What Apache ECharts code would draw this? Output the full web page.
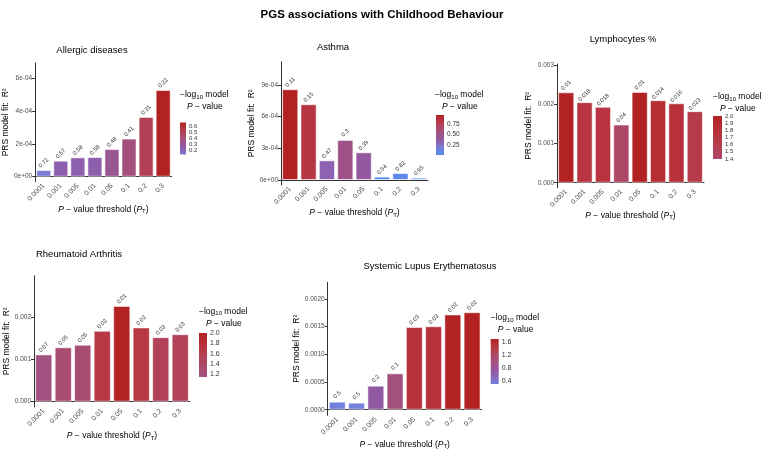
<!DOCTYPE html>
<html><head><meta charset="utf-8">
<script src="https://cdn.jsdelivr.net/npm/echarts@6/dist/echarts.min.js"></script>
<style>html,body{margin:0;padding:0;background:#fff}#c{width:764px;height:452px}</style>
</head><body><div id="c"></div>
<script>
// ---------------- DATA ----------------
const thresholds = ['0.0001','0.001','0.005','0.01','0.05','0.1','0.2','0.3'];

const allergicR2   = [4.1e-5, 9.8e-5, 1.18e-4, 1.2e-4, 1.69e-4, 2.33e-4, 3.65e-4, 5.3e-4];
const allergicP    = ['0.72','0.57','0.58','0.58','0.48','0.41','0.31','0.22'];
const allergicLogP = [0.14, 0.24, 0.24, 0.24, 0.32, 0.39, 0.51, 0.66];

const asthmaR2   = [8.59e-4, 7.17e-4, 1.86e-4, 3.79e-4, 2.62e-4, 3.2e-5, 6.6e-5, 2.2e-5];
const asthmaP    = ['0.11','0.15','0.47','0.3','0.39','0.94','0.82','0.95'];
const asthmaLogP = [0.96, 0.82, 0.33, 0.52, 0.41, 0.027, 0.086, 0.022];

const lymphR2   = [2.30e-3, 2.05e-3, 1.93e-3, 1.48e-3, 2.31e-3, 2.10e-3, 2.02e-3, 1.82e-3];
const lymphP    = ['0.01','0.018','0.018','0.04','0.01','0.014','0.016','0.023'];
const lymphLogP = [2.0, 1.74, 1.74, 1.40, 2.0, 1.85, 1.80, 1.64];

const raR2   = [1.12e-3, 1.29e-3, 1.35e-3, 1.68e-3, 2.27e-3, 1.76e-3, 1.53e-3, 1.60e-3];
const raP    = ['0.07','0.05','0.05','0.02','0.01','0.02','0.03','0.03'];
const raLogP = [1.15, 1.30, 1.30, 1.70, 2.0, 1.70, 1.52, 1.52];

const sleR2   = [1.45e-4, 1.27e-4, 4.34e-4, 6.57e-4, 1.494e-3, 1.506e-3, 1.72e-3, 1.76e-3];
const sleP    = ['0.5','0.5','0.2','0.1','0.03','0.03','0.02','0.02'];
const sleLogP = [0.30, 0.30, 0.70, 1.0, 1.52, 1.52, 1.70, 1.70];

// axis tick labels
const allergicYTicks = [0, 2e-4, 4e-4, 6e-4];
const asthmaYTicks   = [0, 3e-4, 6e-4, 9e-4];
const lymphYTicks    = [0, 0.001, 0.002, 0.003];
const raYTicks       = [0, 0.001, 0.002];
const sleYTicks      = [0, 0.0005, 0.001, 0.0015, 0.002];

// colour-legend tick labels
const allergicCTicks = [0.2, 0.3, 0.4, 0.5, 0.6];
const asthmaCTicks   = [0.25, 0.5, 0.75];
const lymphCTicks    = [1.4, 1.5, 1.6, 1.7, 1.8, 1.9, 2.0];
const raCTicks       = [1.2, 1.4, 1.6, 1.8, 2.0];
const sleCTicks      = [0.4, 0.8, 1.2, 1.6];

const panelTitles = ['Allergic diseases', 'Asthma', 'Lymphocytes %', 'Rheumatoid Arthritis', 'Systemic Lupus Erythematosus'];
const mainTitle = 'PGS associations with Childhood Behaviour';

// ---------------- STYLE / LAYOUT ----------------
const FONT = "'Liberation Sans', Arial, sans-serif";
const palette = ['#4A8CF2','#5C86E8','#7A7FD9','#8A68BA','#915AA5','#9C5490','#A5507C','#AC4866','#B63E4E','#B7303A','#B22222'];

function hex2rgb(h){return [parseInt(h.substr(1,2),16),parseInt(h.substr(3,2),16),parseInt(h.substr(5,2),16)];}
function colourAt(f){
  f = Math.max(0, Math.min(1, f));
  const p = f*(palette.length-1), i = Math.min(Math.floor(p), palette.length-2), t = p - i;
  const a = hex2rgb(palette[i]), b = hex2rgb(palette[i+1]);
  return 'rgb(' + a.map((v,k)=>Math.round(v+(b[k]-v)*t)).join(',') + ')';
}
function sci(v){
  if (v === 0) return '0e+00';
  const e = Math.floor(Math.log10(v) + 1e-9);
  const m = Math.round(v / Math.pow(10, e));
  return m + 'e-' + String(-e).padStart(2,'0');
}

const panels = [
  {r2: allergicR2, p: allergicP, c: allergicLogP, yt: allergicYTicks, ct: allergicCTicks, fmt: sci, cfmt: v=>v.toFixed(1),
   grid:{left:33, top:63, width:138.7, height:118.7}, ymin:-3.06e-5, ymax:6.95e-4,
   leg:{left:180, top:122.5, width:6, height:32}, legFont:6, lt:{x:180, y:95},
   title:{x:92, y:50}, yGap:20, xGap:20, tick:6.5},
  {r2: asthmaR2, p: asthmaP, c: asthmaLogP, yt: asthmaYTicks, ct: asthmaCTicks, fmt: sci, cfmt: v=>v.toFixed(2),
   grid:{left:281, top:61.7, width:147, height:123.3}, ymin:-4.73e-5, ymax:1.1196e-3,
   leg:{left:436, top:115, width:8, height:40}, legFont:6.5, lt:{x:435, y:95},
   title:{x:333, y:47}, yGap:22, xGap:21, tick:6.5},
  {r2: lymphR2, p: lymphP, c: lymphLogP, yt: lymphYTicks, ct: lymphCTicks, fmt: v=>v.toFixed(3), cfmt: v=>v.toFixed(1),
   grid:{left:557, top:64, width:147, height:123.7}, ymin:-1.27e-4, ymax:3.02e-3,
   leg:{left:713, top:116, width:9, height:43}, legFont:6, lt:{x:713, y:97},
   title:{x:623, y:39}, yGap:24, xGap:21, tick:6.5},
  {r2: raR2, p: raP, c: raLogP, yt: raYTicks, ct: raCTicks, fmt: v=>v.toFixed(3), cfmt: v=>v.toFixed(1),
   grid:{left:34, top:275.7, width:156, height:131.3}, ymin:-1.256e-4, ymax:2.986e-3,
   leg:{left:199, top:333, width:8, height:44}, legFont:7, lt:{x:199, y:311.7},
   title:{x:79, y:254}, yGap:21, xGap:24, tick:6.5},
  {r2: sleR2, p: sleP, c: sleLogP, yt: sleYTicks, ct: sleCTicks, fmt: v=>v.toFixed(4), cfmt: v=>v.toFixed(1),
   grid:{left:327.7, top:282.3, width:154, height:133}, ymin:-1.01e-4, ymax:2.30e-3,
   leg:{left:490.7, top:339, width:8, height:45}, legFont:7, lt:{x:490.7, y:318},
   title:{x:430, y:266}, yGap:27, xGap:24, tick:6.5}
];

const grids = [], xAxes = [], yAxes = [], series = [], visualMaps = [], graphics = [];

graphics.push({type:'text', x:382, y:15, style:{text: mainTitle, font:"bold 11.5px "+FONT, fill:'#000', textAlign:'center', textVerticalAlign:'middle'}});

panels.forEach((pn, i) => {
  const g = grids.length;
  grids.push(Object.assign({containLabel:false}, pn.grid));
  xAxes.push({
    type:'category', gridIndex:g, data: thresholds,
    axisLine:{lineStyle:{color:'#333', width:1}},
    axisTick:{alignWithLabel:true, length:3, lineStyle:{color:'#333'}},
    axisLabel:{rotate:45, fontSize:pn.tick+0.5, color:'#4d4d4d', margin:3, interval:0, fontFamily:FONT},
    name:'{i|P} − value threshold ({i|P}{s|T})', nameLocation:'middle', nameGap:pn.xGap,
    nameTextStyle:{fontSize:8.5, color:'#000', fontFamily:FONT,
      rich:{i:{fontStyle:'italic', fontSize:8.5, fontFamily:FONT}, s:{fontSize:6, fontFamily:FONT, padding:[4,0,0,0]}}}
  });
  yAxes.push({
    type:'value', gridIndex:g, min:pn.ymin, max:pn.ymax,
    axisLine:{show:true, lineStyle:{color:'#333', width:1}},
    axisTick:{show:true, length:3, lineStyle:{color:'#333'}, customValues: pn.yt},
    axisLabel:{customValues: pn.yt, formatter: pn.fmt, fontSize:pn.tick, color:'#4d4d4d', margin:3, fontFamily:FONT},
    splitLine:{show:false},
    name:'PRS model fit:  R²', nameLocation:'middle', nameGap:pn.yGap, nameRotate:90,
    nameTextStyle:{fontSize:8.5, color:'#000', fontFamily:FONT}
  });
  const sIdx = series.length;
  series.push({
    type:'bar', xAxisIndex:g, yAxisIndex:g,
    data: thresholds.map((t,k)=>[t, pn.r2[k], pn.c[k], pn.p[k]]),
    encode:{x:0, y:1},
    barCategoryGap:'12%',
    itemStyle:{borderColor:'rgba(255,255,255,0.55)', borderWidth:1},
    label:{show:true, position:'top', distance:7, rotate:45, align:'center', verticalAlign:'middle',
      fontSize:5.8, color:'#333', fontFamily:FONT, formatter: p => p.data[3]},
    animation:false
  });
  const cmax = Math.max(...pn.c), cmin = Math.min(...pn.c);
  visualMaps.push({type:'continuous', show:false, seriesIndex:sIdx, dimension:2, min:0, max:cmax, inRange:{color: palette}});

  const lg = grids.length;
  grids.push(Object.assign({containLabel:false}, pn.leg));
  xAxes.push({type:'category', gridIndex:lg, data:[''], show:false});
  yAxes.push({type:'value', gridIndex:lg, min:cmin, max:cmax, position:'right',
    axisLine:{show:false}, splitLine:{show:false},
    axisTick:{show:true, inside:true, length:2, lineStyle:{color:'#fff', width:1}, customValues: pn.ct},
    axisLabel:{customValues: pn.ct, formatter: pn.cfmt, fontSize:pn.legFont, color:'#333', margin:3, fontFamily:FONT}});
  const stops = [];
  for (let j=0;j<=10;j++){ const v = cmax - j*(cmax-cmin)/10; stops.push({offset:j/10, color: colourAt(v/cmax)}); }
  series.push({type:'bar', xAxisIndex:lg, yAxisIndex:lg, stack:'L'+i, data:[cmin], barWidth:'100%', itemStyle:{color:'rgba(0,0,0,0)'}, silent:true, animation:false});
  series.push({type:'bar', xAxisIndex:lg, yAxisIndex:lg, stack:'L'+i, data:[cmax-cmin], barWidth:'100%', silent:true, animation:false,
    itemStyle:{color: new echarts.graphic.LinearGradient(0,0,0,1, stops)}});

  graphics.push({type:'text', x:pn.lt.x, y:pn.lt.y, style:{text:'−log{s|10} model', font:"8.5px "+FONT, fill:'#000', textVerticalAlign:'middle',
    rich:{s:{fontSize:6, fontFamily:FONT, padding:[4,0,0,0]}}}});
  graphics.push({type:'text', x:pn.lt.x+7, y:pn.lt.y+12, style:{text:'{i|P} − value', font:"8.5px "+FONT, fill:'#000', textVerticalAlign:'middle',
    rich:{i:{fontStyle:'italic', fontSize:8.5, fontFamily:FONT}}}});
  graphics.push({type:'text', x:pn.title.x, y:pn.title.y, style:{text: panelTitles[i], font:"9.5px "+FONT, fill:'#000', textAlign:'center', textVerticalAlign:'middle'}});
});

const chart = echarts.init(document.getElementById('c'), null, {renderer:'canvas'});
chart.setOption({
  backgroundColor:'#fff',
  animation:false,
  grid: grids, xAxis: xAxes, yAxis: yAxes, series: series, visualMap: visualMaps, graphic: graphics
});
</script></body></html>
